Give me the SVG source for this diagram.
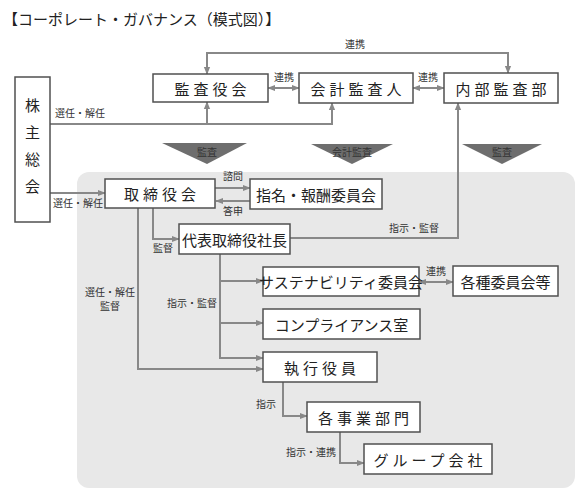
<svg xmlns="http://www.w3.org/2000/svg" width="583" height="500" viewBox="0 0 583 500">
<style>
text{font-family:"Noto Sans CJK JP","Noto Sans",sans-serif;fill:#222}
.box{fill:#fff;stroke:#505050;stroke-width:1.5}
.t{font-size:15px;text-anchor:middle;dominant-baseline:central}
.sp{letter-spacing:4px}
.s{font-size:10px;text-anchor:middle;fill:#333}
.ln{fill:none;stroke:#888;stroke-width:2}
.tri{fill:#6e6e6e}
</style>
<defs>
<marker id="ah" viewBox="0 0 10 10" refX="9" refY="5" markerWidth="4" markerHeight="4" orient="auto-start-reverse" markerUnits="strokeWidth">
<path d="M0,1 L10,5 L0,9 z" fill="#888"/>
</marker>
</defs>
<rect width="583" height="500" fill="#fff"/>
<text x="3" y="25" font-size="15" style="fill:#222">【コーポレート・ガバナンス（模式図）】</text>
<rect x="77" y="172" width="498" height="316" rx="12" fill="#e8e8e8"/>

<g id="connectors">
<path class="ln" d="M207,74 V53 H508 V73" marker-start="url(#ah)" marker-end="url(#ah)"/>
<path class="ln" d="M268,88 H299" marker-start="url(#ah)" marker-end="url(#ah)"/>
<path class="ln" d="M413,88 H444" marker-start="url(#ah)" marker-end="url(#ah)"/>
<path class="ln" d="M50,124 H332 V103" marker-end="url(#ah)"/>
<path class="ln" d="M207,124 V102" marker-end="url(#ah)"/>
<path class="ln" d="M290,238 H458 V103" marker-end="url(#ah)"/>
<path class="ln" d="M50,193 H105" marker-end="url(#ah)"/>
<path class="ln" d="M215,188 H250" marker-end="url(#ah)"/>
<path class="ln" d="M250,201 H216" marker-end="url(#ah)"/>
<path class="ln" d="M153,208 V239 H179" marker-end="url(#ah)"/>
<path class="ln" d="M138,208 V369 H263" marker-end="url(#ah)"/>
<path class="ln" d="M220,254 V358 H263" marker-end="url(#ah)"/>
<path class="ln" d="M220,281 H263" marker-end="url(#ah)"/>
<path class="ln" d="M220,323 H263" marker-end="url(#ah)"/>
<path class="ln" d="M419,282 H453" marker-start="url(#ah)" marker-end="url(#ah)"/>
<path class="ln" d="M283,382 V416 H307" marker-end="url(#ah)"/>
<path class="ln" d="M340,432 V463 H364" marker-end="url(#ah)"/>
<polygon class="tri" points="162,143 247,143 207,164"/>
<polygon class="tri" points="311,144 393,144 352,164"/>
<polygon class="tri" points="462,144 542,144 502,164"/>
<text class="s" x="207" y="156">監査</text>
<text class="s" x="352" y="156">会計監査</text>
<text class="s" x="502" y="156">監査</text>
<text class="s" x="355" y="48">連携</text>
<text class="s" x="284" y="81">連携</text>
<text class="s" x="428" y="81">連携</text>
<text class="s" x="80" y="117">選任・解任</text>
<text class="s" x="78" y="207">選任・解任</text>
<text class="s" x="233" y="180">諮問</text>
<text class="s" x="233" y="215">答申</text>
<text class="s" x="163" y="252">監督</text>
<text class="s" x="414" y="232">指示・監督</text>
<text class="s" x="110" y="296">選任・解任</text>
<text class="s" x="110" y="310">監督</text>
<text class="s" x="192" y="307">指示・監督</text>
<text class="s" x="436" y="275">連携</text>
<text class="s" x="266" y="408">指示</text>
<text class="s" x="311" y="456">指示・連携</text>
</g>

<g id="n-kabunushi"><rect class="box" x="15" y="77" width="35" height="145"/>
<text class="t" x="32.5" y="104">株</text><text class="t" x="32.5" y="131">主</text><text class="t" x="32.5" y="158">総</text><text class="t" x="32.5" y="185">会</text></g>
<g id="n-kansayaku"><rect class="box" x="153" y="74" width="115" height="28"/><text class="t sp" x="212.5" y="88">監査役会</text></g>
<g id="n-kaikei"><rect class="box" x="299" y="73" width="114" height="30"/><text class="t sp" x="358" y="88">会計監査人</text></g>
<g id="n-naibu"><rect class="box" x="444" y="73" width="114" height="30"/><text class="t sp" x="503" y="88">内部監査部</text></g>
<g id="n-torishimari"><rect class="box" x="105" y="179" width="110" height="29"/><text class="t sp" x="162" y="193.5">取締役会</text></g>
<g id="n-shimei"><rect class="box" x="250" y="179" width="132" height="30"/><text class="t" x="316" y="194">指名・報酬委員会</text></g>
<g id="n-daihyo"><rect class="box" x="179" y="224" width="111" height="30"/><text class="t" x="234.5" y="239">代表取締役社長</text></g>
<g id="n-sustain"><rect class="box" x="263" y="267" width="156" height="29"/><text class="t" x="341" y="281.5">サステナビリティ委員会</text></g>
<g id="n-kakushu"><rect class="box" x="453" y="266" width="105" height="30"/><text class="t" x="505.5" y="281">各種委員会等</text></g>
<g id="n-comp"><rect class="box" x="263" y="309" width="157" height="30"/><text class="t" x="341.5" y="324">コンプライアンス室</text></g>
<g id="n-shikko"><rect class="box" x="263" y="352" width="114" height="30"/><text class="t sp" x="322" y="367">執行役員</text></g>
<g id="n-jigyo"><rect class="box" x="307" y="402" width="113" height="30"/><text class="t sp" x="365.5" y="417">各事業部門</text></g>
<g id="n-group"><rect class="box" x="364" y="444" width="128" height="30"/><text class="t sp" x="430" y="459">グループ会社</text></g>
</svg>
